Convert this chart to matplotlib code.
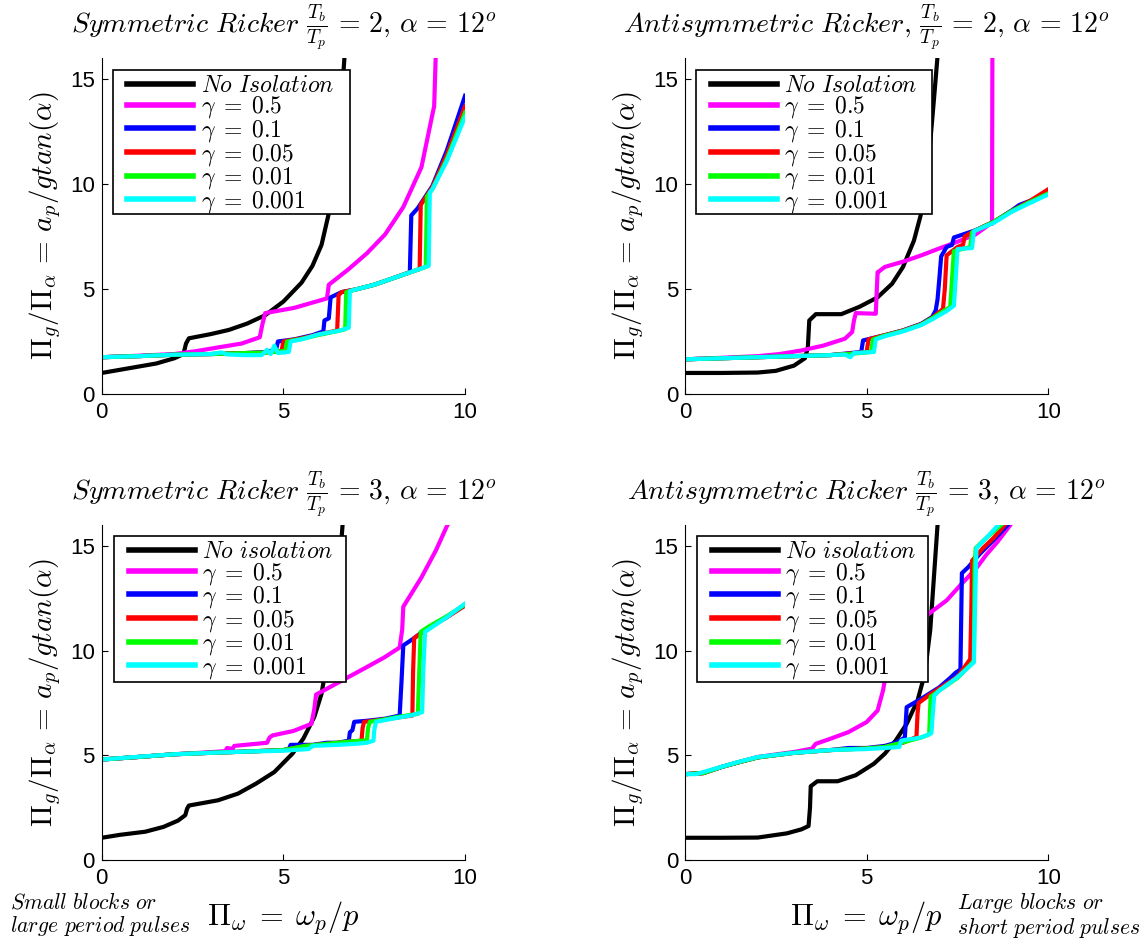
import matplotlib
matplotlib.use("Agg")
import matplotlib.pyplot as plt
from matplotlib.patches import Rectangle

plt.rcParams['font.family'] = ['Liberation Sans', 'DejaVu Sans']
plt.rcParams['mathtext.fontset'] = 'cm'

# ---- Symmetric Ricker, Tb/Tp = 2 ----
sym2_black_x = [0, 0.5, 1.0, 1.5, 2.0, 2.25, 2.32, 2.4, 3.0, 3.5, 4.0, 4.5, 5.0, 5.5, 5.8, 6.05, 6.25, 6.45, 6.6, 6.7]
sym2_black_y = [1.0, 1.15, 1.3, 1.45, 1.7, 1.9, 2.4, 2.65, 2.85, 3.05, 3.35, 3.75, 4.4, 5.3, 6.1, 7.1, 8.6, 11.0, 14.0, 16.5]
sym2_mag_x = [0, 1.0, 2.0, 2.6, 3.25, 3.85, 4.35, 4.42, 4.5, 5.3, 5.9, 6.2, 6.25, 6.8, 7.3, 7.8, 8.3, 8.8, 9.1, 9.15, 9.2]
sym2_mag_y = [1.75, 1.82, 1.9, 2.04, 2.23, 2.4, 2.7, 3.3, 3.85, 4.1, 4.4, 4.55, 5.2, 5.95, 6.7, 7.6, 8.9, 10.8, 13.3, 13.7, 16.5]
sym2_blue_x = [0, 1.0, 2.0, 3.0, 4.0, 4.5, 4.8, 4.85, 5.3, 5.8, 6.1, 6.13, 6.25, 6.3, 6.6, 7.0, 7.5, 8.0, 8.48, 8.52, 8.7, 9.1, 9.5, 10.0]
sym2_blue_y = [1.75, 1.8, 1.87, 1.9, 1.95, 2.0, 2.1, 2.5, 2.6, 2.8, 2.98, 3.5, 3.6, 4.6, 4.85, 4.98, 5.2, 5.5, 5.8, 8.5, 8.85, 9.9, 11.6, 14.2]
sym2_red_x = [0, 1.0, 2.0, 3.0, 4.0, 4.5, 4.95, 5.0, 5.5, 6.0, 6.48, 6.52, 6.6, 7.0, 7.5, 8.0, 8.5, 8.75, 8.78, 9.1, 9.5, 10.0]
sym2_red_y = [1.75, 1.8, 1.87, 1.9, 1.95, 1.97, 2.05, 2.5, 2.65, 2.85, 3.02, 4.7, 4.85, 4.98, 5.2, 5.5, 5.8, 5.95, 9.0, 9.85, 11.4, 13.7]
sym2_green_x = [0, 1.0, 2.0, 3.0, 4.0, 4.5, 5.05, 5.1, 5.5, 6.0, 6.5, 6.7, 6.73, 7.0, 7.5, 8.0, 8.5, 8.92, 8.95, 9.1, 9.5, 10.0]
sym2_green_y = [1.75, 1.8, 1.87, 1.9, 1.95, 1.97, 2.05, 2.5, 2.62, 2.82, 3.0, 3.08, 4.85, 4.98, 5.2, 5.5, 5.8, 6.05, 9.4, 9.75, 11.2, 13.4]
sym2_cyan_x = [0, 1.0, 2.0, 3.0, 3.3, 3.45, 4.0, 4.4, 4.55, 4.65, 4.75, 4.85, 5.15, 5.2, 5.5, 6.0, 6.5, 6.8, 6.83, 7.0, 7.5, 8.0, 8.5, 9.0, 9.03, 9.1, 9.5, 10.0]
sym2_cyan_y = [1.75, 1.8, 1.87, 1.9, 1.98, 1.88, 1.85, 1.85, 2.1, 1.9, 2.3, 1.95, 2.0, 2.5, 2.6, 2.85, 3.0, 3.15, 4.9, 4.98, 5.2, 5.5, 5.8, 6.1, 9.6, 9.75, 11.1, 13.2]

# ---- Antisymmetric Ricker, Tb/Tp = 2 ----
anti2_black_x = [0, 1.0, 2.0, 2.5, 3.0, 3.3, 3.38, 3.42, 3.6, 4.3, 4.8, 5.3, 5.7, 6.0, 6.3, 6.5, 6.7, 6.85, 6.97]
anti2_black_y = [1.0, 1.0, 1.02, 1.1, 1.35, 1.7, 2.2, 3.5, 3.8, 3.8, 4.15, 4.6, 5.25, 6.05, 7.3, 8.6, 11.0, 14.0, 16.5]
anti2_mag_x = [0, 1.0, 2.0, 2.6, 3.2, 3.8, 4.4, 4.6, 4.65, 4.7, 5.25, 5.3, 5.35, 5.5, 6.0, 6.5, 7.0, 7.5, 8.0, 8.4, 8.45, 8.46]
anti2_mag_y = [1.65, 1.72, 1.8, 1.9, 2.07, 2.3, 2.63, 2.95, 3.5, 3.85, 3.82, 5.8, 5.85, 6.05, 6.3, 6.6, 6.93, 7.25, 7.6, 8.1, 8.1, 16.5]
anti2_blue_x = [0, 1.0, 2.0, 3.0, 4.0, 4.4, 4.85, 4.9, 5.5, 6.0, 6.5, 6.8, 6.9, 6.95, 7.0, 7.05, 7.2, 7.35, 7.4, 8.0, 8.5, 9.0, 9.2, 9.5, 10.0]
anti2_blue_y = [1.65, 1.7, 1.75, 1.8, 1.85, 1.92, 2.0, 2.55, 2.8, 3.03, 3.34, 3.66, 3.98, 4.5, 5.5, 6.55, 7.0, 7.1, 7.45, 7.8, 8.2, 8.75, 9.0, 9.2, 9.6]
anti2_red_x = [0, 1.0, 2.0, 3.0, 4.0, 4.5, 5.0, 5.05, 5.5, 6.0, 6.5, 6.8, 7.1, 7.15, 7.2, 7.5, 7.65, 7.7, 8.0, 8.5, 9.0, 9.5, 10.0]
anti2_red_y = [1.65, 1.7, 1.75, 1.8, 1.85, 1.92, 2.0, 2.6, 2.8, 3.02, 3.32, 3.62, 4.05, 5.0, 6.6, 7.0, 7.1, 7.5, 7.8, 8.2, 8.72, 9.2, 9.75]
anti2_green_x = [0, 1.0, 2.0, 3.0, 4.0, 4.5, 5.12, 5.17, 5.5, 6.0, 6.5, 6.8, 7.3, 7.35, 7.4, 7.85, 7.9, 8.5, 9.0, 9.5, 10.0]
anti2_green_y = [1.65, 1.7, 1.75, 1.8, 1.85, 1.9, 2.0, 2.6, 2.78, 3.0, 3.3, 3.6, 4.15, 5.5, 6.8, 7.0, 7.7, 8.2, 8.72, 9.15, 9.55]
anti2_cyan_x = [0, 1.0, 2.0, 3.0, 4.0, 4.4, 4.55, 4.65, 5.2, 5.25, 5.5, 6.0, 6.5, 6.8, 7.2, 7.4, 7.45, 7.5, 7.9, 7.95, 8.5, 9.0, 9.5, 10.0]
anti2_cyan_y = [1.65, 1.7, 1.75, 1.8, 1.85, 1.88, 1.75, 1.95, 2.0, 2.6, 2.75, 2.98, 3.28, 3.55, 3.95, 4.2, 5.5, 6.9, 6.95, 7.75, 8.15, 8.68, 9.1, 9.5]

# ---- Symmetric Ricker, Tb/Tp = 3 ----
sym3_black_x = [0, 0.5, 1.2, 1.7, 2.1, 2.3, 2.35, 2.4, 3.2, 3.75, 4.25, 4.75, 5.25, 5.55, 5.85, 6.05, 6.3, 6.5, 6.65]
sym3_black_y = [1.06, 1.2, 1.35, 1.58, 1.88, 2.14, 2.45, 2.6, 2.85, 3.17, 3.65, 4.2, 5.08, 5.8, 6.83, 7.94, 10.5, 13.0, 16.5]
sym3_mag_x = [0, 1.0, 2.0, 3.0, 3.4, 3.45, 3.6, 3.65, 4.55, 4.62, 4.7, 5.27, 5.77, 5.85, 5.9, 6.27, 6.78, 7.28, 7.78, 8.2, 8.27, 8.3, 8.8, 9.2, 9.5, 9.7]
sym3_mag_y = [4.8, 4.92, 5.05, 5.15, 5.2, 5.35, 5.3, 5.45, 5.6, 5.85, 5.95, 6.16, 6.5, 7.2, 7.9, 8.25, 8.73, 9.2, 9.68, 10.15, 11.0, 12.1, 13.5, 14.8, 15.95, 16.6]
sym3_blue_x = [0, 1.0, 2.0, 3.0, 4.0, 5.0, 5.15, 5.2, 5.8, 6.2, 6.5, 6.8, 6.83, 6.9, 6.95, 7.3, 7.8, 8.2, 8.25, 8.3, 8.6, 8.9, 9.5, 10.0]
sym3_blue_y = [4.8, 4.92, 5.05, 5.12, 5.18, 5.25, 5.3, 5.5, 5.5, 5.6, 5.6, 5.7, 6.1, 6.2, 6.6, 6.65, 6.75, 6.9, 8.5, 10.25, 10.6, 11.0, 11.6, 12.2]
sym3_red_x = [0, 1.0, 2.0, 3.0, 4.0, 5.0, 5.6, 6.2, 6.8, 7.15, 7.18, 7.22, 7.8, 8.2, 8.55, 8.57, 8.6, 9.0, 9.5, 10.0]
sym3_red_y = [4.8, 4.92, 5.05, 5.12, 5.18, 5.25, 5.45, 5.55, 5.65, 5.7, 6.3, 6.6, 6.72, 6.82, 6.9, 9.0, 10.6, 11.1, 11.6, 12.15]
sym3_green_x = [0, 1.0, 2.0, 3.0, 4.0, 5.0, 5.6, 6.2, 6.8, 7.3, 7.33, 7.38, 7.8, 8.2, 8.7, 8.74, 8.78, 9.0, 9.5, 10.0]
sym3_green_y = [4.8, 4.92, 5.05, 5.12, 5.18, 5.25, 5.45, 5.55, 5.65, 5.72, 6.3, 6.6, 6.72, 6.85, 6.98, 9.0, 10.9, 11.15, 11.65, 12.2]
sym3_cyan_x = [0, 1.0, 2.0, 3.0, 4.0, 5.0, 5.7, 5.8, 6.5, 7.0, 7.3, 7.48, 7.5, 7.55, 8.0, 8.5, 8.82, 8.85, 8.9, 9.5, 10.0]
sym3_cyan_y = [4.8, 4.93, 5.05, 5.12, 5.18, 5.22, 5.3, 5.45, 5.5, 5.55, 5.6, 5.7, 6.2, 6.6, 6.75, 6.9, 7.06, 9.0, 10.9, 11.6, 12.25]

# ---- Antisymmetric Ricker, Tb/Tp = 3 ----
anti3_black_x = [0, 1.0, 2.0, 2.8, 3.2, 3.4, 3.44, 3.46, 3.64, 4.2, 4.7, 5.2, 5.5, 5.8, 6.1, 6.4, 6.6, 6.75, 6.87, 6.97]
anti3_black_y = [1.06, 1.06, 1.07, 1.27, 1.46, 1.62, 2.5, 3.52, 3.76, 3.76, 4.05, 4.6, 5.08, 5.71, 6.5, 7.62, 8.9, 11.0, 14.0, 16.5]
anti3_mag_x = [0, 0.5, 1.0, 1.5, 2.0, 3.0, 3.5, 3.55, 3.6, 4.0, 4.5, 5.0, 5.3, 5.45, 5.5, 5.6, 5.8, 6.2, 6.7, 7.2, 7.6, 8.0, 8.3, 8.6, 8.95]
anti3_mag_y = [4.1, 4.15, 4.44, 4.68, 4.92, 5.16, 5.32, 5.45, 5.55, 5.79, 6.11, 6.59, 7.14, 8.1, 8.6, 9.5, 10.5, 11.2, 11.75, 12.4, 13.17, 13.9, 14.6, 15.2, 16.0]
anti3_blue_x = [0, 0.5, 1.0, 1.5, 2.0, 3.0, 4.0, 4.5, 5.0, 5.5, 5.8, 6.05, 6.1, 6.5, 7.0, 7.3, 7.45, 7.58, 7.62, 7.8, 8.1, 8.5, 8.88]
anti3_blue_y = [4.1, 4.15, 4.44, 4.68, 4.9, 5.12, 5.25, 5.35, 5.35, 5.45, 5.6, 5.85, 7.3, 7.7, 8.25, 8.7, 8.95, 9.1, 13.7, 14.0, 14.6, 15.3, 16.0]
anti3_red_x = [0, 0.5, 1.0, 1.5, 2.0, 3.0, 4.0, 5.0, 5.5, 6.0, 6.37, 6.4, 6.43, 6.7, 7.0, 7.5, 7.85, 7.88, 7.9, 8.2, 8.5, 8.8]
anti3_red_y = [4.1, 4.15, 4.44, 4.68, 4.9, 5.12, 5.25, 5.33, 5.4, 5.6, 5.88, 7.0, 7.5, 7.85, 8.2, 8.75, 9.6, 12.0, 14.3, 14.9, 15.4, 16.0]
anti3_green_x = [0, 0.5, 1.0, 1.5, 2.0, 3.0, 4.0, 5.0, 5.5, 6.0, 6.5, 6.72, 6.76, 7.0, 7.5, 7.95, 7.97, 8.0, 8.3, 8.7]
anti3_green_y = [4.1, 4.15, 4.44, 4.68, 4.9, 5.12, 5.25, 5.33, 5.4, 5.62, 5.85, 6.0, 7.8, 8.1, 8.7, 9.5, 14.0, 14.9, 15.4, 16.0]
anti3_cyan_x = [0, 0.3, 0.5, 1.0, 1.5, 2.0, 3.0, 4.0, 5.0, 5.5, 5.9, 5.95, 6.0, 6.5, 6.78, 6.82, 6.86, 7.0, 7.5, 7.95, 7.98, 8.02, 8.3, 8.62]
anti3_cyan_y = [4.1, 4.1, 4.2, 4.45, 4.7, 4.92, 5.12, 5.25, 5.3, 5.35, 5.4, 5.7, 5.72, 5.85, 6.05, 7.0, 7.85, 8.1, 8.73, 9.44, 12.0, 14.9, 15.4, 16.0]

colors = ['k', '#ff00ff', '#0000ff', '#ff0000', '#00ff00', '#00ffff']
gammas = [r'$\gamma\;=\;0.5$', r'$\gamma\;=\;0.1$', r'$\gamma\;=\;0.05$', r'$\gamma\;=\;0.01$', r'$\gamma\;=\;0.001$']

panels = [
    (r'$Symmetric\ Ricker\ \frac{T_b}{T_p}\,=\,2,\, \alpha\,=\,12^o$', r'$No\ Isolation$',
     [(sym2_black_x, sym2_black_y), (sym2_mag_x, sym2_mag_y), (sym2_blue_x, sym2_blue_y),
      (sym2_red_x, sym2_red_y), (sym2_green_x, sym2_green_y), (sym2_cyan_x, sym2_cyan_y)]),
    (r'$Antisymmetric\ Ricker,\, \frac{T_b}{T_p}\,=\,2,\, \alpha\,=\,12^o$', r'$No\ Isolation$',
     [(anti2_black_x, anti2_black_y), (anti2_mag_x, anti2_mag_y), (anti2_blue_x, anti2_blue_y),
      (anti2_red_x, anti2_red_y), (anti2_green_x, anti2_green_y), (anti2_cyan_x, anti2_cyan_y)]),
    (r'$Symmetric\ Ricker\ \frac{T_b}{T_p}\,=\,3,\, \alpha\,=\,12^o$', r'$No\ isolation$',
     [(sym3_black_x, sym3_black_y), (sym3_mag_x, sym3_mag_y), (sym3_blue_x, sym3_blue_y),
      (sym3_red_x, sym3_red_y), (sym3_green_x, sym3_green_y), (sym3_cyan_x, sym3_cyan_y)]),
    (r'$Antisymmetric\ Ricker\ \frac{T_b}{T_p}\,=\,3,\, \alpha\,=\,12^o$', r'$No\ isolation$',
     [(anti3_black_x, anti3_black_y), (anti3_mag_x, anti3_mag_y), (anti3_blue_x, anti3_blue_y),
      (anti3_red_x, anti3_red_y), (anti3_green_x, anti3_green_y), (anti3_cyan_x, anti3_cyan_y)]),
]

rects = [[0.0886, 0.580, 0.3165, 0.3582], [0.5967, 0.580, 0.3165, 0.3582],
         [0.0886, 0.0832, 0.3165, 0.357], [0.5967, 0.0832, 0.3165, 0.357]]
# legend frame boxes (axes fraction): left, bottom, right, top
leg_boxes = [(0.03, 0.536, 0.683, 0.964), (0.03, 0.536, 0.681, 0.964),
             (0.034, 0.532, 0.671, 0.967), (0.034, 0.532, 0.669, 0.967)]

fig = plt.figure(figsize=(11.48, 9.38), dpi=100)

for i, (title, noiso, curves) in enumerate(panels):
    ax = fig.add_axes(rects[i])
    labels = [noiso] + gammas
    for (x, y), c, lab in zip(curves, colors, labels):
        ax.plot(x, y, color=c, lw=3, label=lab)
    ax.set_xlim(0, 10)
    ax.set_ylim(0, 16)
    ax.set_xticks([0, 5, 10])
    ax.set_yticks([0, 5, 10, 15])
    ax.spines['top'].set_visible(False)
    ax.spines['right'].set_visible(False)
    ax.tick_params(direction='in', length=4, labelsize=16)
    ax.tick_params(axis='x', pad=6)
    ax.tick_params(axis='y', pad=5)
    ax.set_title(title, fontsize=20, pad=18)
    ax.set_ylabel(r'$\Pi_g/\Pi_\alpha\,=\,a_p/gtan(\alpha)$', fontsize=21, labelpad=5)
    if i >= 2:
        ax.set_xlabel(r'$\Pi_\omega\;=\;\omega_p/p$', fontsize=22, labelpad=7)

    # legend box like the MATLAB one: white with a thin black frame
    l, b, r, t = leg_boxes[i]
    ax.add_patch(Rectangle((l, b), r - l, t - b, transform=ax.transAxes,
                           facecolor='white', edgecolor='k', lw=1.2, zorder=4))
    leg = ax.legend(loc='upper left', bbox_to_anchor=(l + 0.0275, t), borderaxespad=0,
                    fontsize=17, handlelength=2.8, handletextpad=0.3, borderpad=0.2,
                    labelspacing=-0.1, frameon=False)
    leg.set_zorder(5)
    for ln in leg.get_lines():
        ln.set_linewidth(4)

fig.text(0.009, 0.0245, r'$Small\ blocks\ or$' + '\n' + r'$large\ period\ pulses$',
         fontsize=15.5, va='center', linespacing=1.0)
fig.text(0.834, 0.0245, r'$Large\ blocks\ or$' + '\n' + r'$short\ period\ pulses$',
         fontsize=15.5, va='center', linespacing=1.0)

fig.savefig('out.png', dpi=100)
